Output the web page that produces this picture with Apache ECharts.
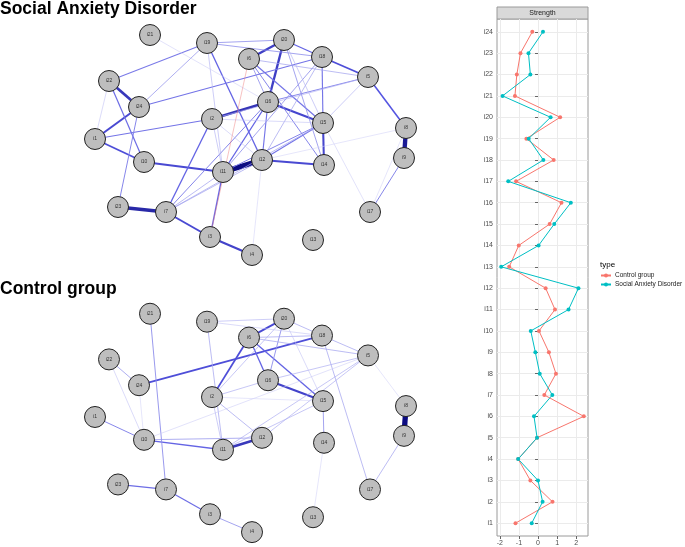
<!DOCTYPE html>
<html>
<head>
<meta charset="utf-8">
<script src="https://cdn.jsdelivr.net/npm/echarts@6/dist/echarts.min.js"></script>
<style>
html,body{margin:0;padding:0;background:#fff;}
#c{width:685px;height:547px;}
</style>
</head>
<body>
<div id="c"></div>
<script>
// ---------- DATA ----------
const items = ['i1','i2','i3','i4','i5','i6','i7','i8','i9','i10','i11','i12','i13','i14','i15','i16','i17','i18','i19','i20','i21','i22','i23','i24'];
const ctrlStrength = [-1.18, 0.76, -0.40, -1.04, -0.05, 2.40, 0.33, 0.94, 0.57, 0.05, 0.89, 0.40, -1.51, -1.01, 0.61, 1.23, -1.15, 0.82, -0.61, 1.16, -1.21, -1.11, -0.92, -0.30];
const sadStrength  = [-0.33, 0.24, 0.00, -1.04, -0.05, -0.21, 0.75, 0.09, -0.14, -0.38, 1.60, 2.12, -1.93, 0.03, 0.85, 1.72, -1.56, 0.28, -0.49, 0.66, -1.86, -0.40, -0.50, 0.26];
const xTicks = [-2, -1, 0, 1, 2];
const seriesNames = ['Control group', 'Social Anxiety Disorder'];
const panelTitles = ['Social Anxiety Disorder', 'Control group'];

// network layout (shared by both groups)
const layoutX = [95, 212, 210, 252, 368, 249, 166, 406, 404, 144, 223, 262, 313, 324, 323, 268, 370, 322, 207, 284, 150, 109, 118, 139];
const layoutY = [139, 119, 237, 255, 77, 59, 212, 128, 158, 162, 172, 160, 240, 165, 123, 102, 212, 57, 43, 40, 35, 81, 207, 107];

// edges [from, to, weight]; negative = red edge
const sadEdges = [
  ['i12','i11',1.0],['i8','i9',0.9],['i23','i7',0.8],['i22','i24',0.7],['i16','i2',0.72],
  ['i20','i6',0.65],['i20','i16',0.65],['i16','i15',0.6],['i15','i14',0.6],['i12','i14',0.58],
  ['i10','i11',0.58],['i1','i24',0.58],['i1','i10',0.55],['i7','i3',0.58],['i3','i4',0.62],
  ['i18','i5',0.55],['i5','i8',0.5],['i11','i3',0.45],['i2','i7',0.45],['i22','i10',0.42],
  ['i1','i2',0.4],['i19','i22',0.38],['i19','i20',0.3],['i19','i18',0.3],['i20','i18',0.45],
  ['i19','i12',0.45],['i16','i11',0.45],['i16','i12',0.4],['i16','i7',0.35],['i18','i15',0.4],
  ['i6','i15',0.4],['i6','i14',0.35],['i18','i24',0.4],['i5','i16',0.35],['i5','i6',0.25],
  ['i5','i2',0.2],['i15','i12',0.4],['i15','i11',0.35],['i15','i7',0.25],['i18','i11',0.3],
  ['i18','i12',0.25],['i19','i24',0.28],['i19','i11',0.2],['i20','i14',0.3],['i20','i15',0.2],
  ['i6','i16',0.3],['i2','i11',0.2],['i2','i12',0.15],['i2','i15',0.15],['i11','i7',0.25],
  ['i12','i7',0.25],['i24','i23',0.35],['i22','i1',0.15],['i21','i16',0.12],['i15','i17',0.12],
  ['i9','i17',0.35],['i8','i17',0.1],['i8','i12',0.1],['i12','i4',0.1],['i5','i15',0.2],
  ['i6','i3',-0.15]
];
const ctrlEdges = [
  ['i8','i9',1.0],['i11','i12',0.7],['i16','i15',0.62],['i20','i6',0.58],['i6','i2',0.55],
  ['i18','i24',0.55],['i6','i16',0.45],['i6','i15',0.45],['i10','i11',0.45],['i7','i3',0.42],
  ['i23','i7',0.42],['i21','i7',0.32],['i1','i10',0.35],['i19','i20',0.2],['i19','i11',0.25],
  ['i20','i18',0.25],['i20','i16',0.32],['i6','i18',0.25],['i6','i5',0.25],['i18','i5',0.25],
  ['i18','i17',0.25],['i5','i16',0.22],['i5','i12',0.22],['i5','i11',0.22],['i5','i8',0.1],
  ['i5','i10',0.12],['i22','i24',0.28],['i22','i10',0.15],['i24','i10',0.1],['i10','i12',0.28],
  ['i16','i2',0.22],['i2','i12',0.25],['i2','i11',0.2],['i2','i20',0.22],['i2','i15',0.1],
  ['i11','i15',0.22],['i15','i14',0.3],['i14','i13',0.1],['i9','i17',0.25],['i3','i4',0.3],
  ['i20','i15',0.15],['i19','i18',0.15]
];

// ---------- STYLE HELPERS ----------
function mix(a, b, t) { return a.map((v, i) => Math.round(v + (b[i] - v) * t)); }
function edgeColor(w) {
  if (w < 0) return 'rgba(238,120,120,' + Math.min(1, 0.5 + Math.abs(w) * 2) + ')';
  let c;
  if (w < 0.5) c = mix([238, 238, 253], [85, 85, 225], w / 0.5);
  else c = mix([85, 85, 225], [12, 12, 130], (w - 0.5) / 0.5);
  return 'rgb(' + c.join(',') + ')';
}
function edgeWidth(w) { const a = Math.abs(w); return 0.5 + 4.8 * Math.pow(a, 2.2); }

function buildNodes() {
  return items.map((n, i) => ({ name: n, value: [layoutX[i], layoutY[i]] }));
}
function buildLinks(edges) {
  return edges.map(e => ({ source: e[0], target: e[1],
    lineStyle: { color: edgeColor(e[2]), width: edgeWidth(e[2]), opacity: 1, curveness: 0 } }));
}
function graphSeries(edges, gi) {
  return {
    type: 'graph', layout: 'none', coordinateSystem: 'cartesian2d',
    xAxisIndex: gi, yAxisIndex: gi, roam: false, silent: true,
    symbol: 'circle', symbolSize: 21,
    itemStyle: { color: '#BEBEBE', borderColor: '#222', borderWidth: 1 },
    label: { show: true, position: 'inside', formatter: '{b}', fontSize: 5, color: '#333', fontFamily: 'Liberation Sans' },
    emphasis: { disabled: true },
    data: buildNodes(), links: buildLinks(edges)
  };
}

const FONT = 'Liberation Sans';
const chart = echarts.init(document.getElementById('c'), null, { renderer: 'canvas' });
const netAxisX = (gi) => ({ gridIndex: gi, type: 'value', min: 0, max: 420, show: false });
const netAxisY = (gi) => ({ gridIndex: gi, type: 'value', min: 0, max: 270, inverse: true, show: false });

const option = {
  animation: false,
  backgroundColor: '#fff',
  textStyle: { fontFamily: FONT },
  grid: [
    { left: 0, top: 0, width: 420, height: 270, show: false },
    { left: 0, top: 279, width: 420, height: 270, show: false },
    { left: 497, right: 97, top: 19, bottom: 11, show: true, borderColor: '#9a9a9a', borderWidth: 1, backgroundColor: '#fff' }
  ],
  xAxis: [
    netAxisX(0), netAxisX(1),
    { gridIndex: 2, type: 'value', min: -2.15, max: 2.62, splitNumber: 10,
      axisLine: { show: false },
      axisTick: { show: true, customValues: xTicks, length: 3, lineStyle: { color: '#666' } },
      axisLabel: { customValues: xTicks, fontSize: 7, color: '#4d4d4d', margin: 4, fontFamily: FONT,
        formatter: v => (xTicks.indexOf(v) >= 0 ? String(v) : '') },
      splitLine: { show: true, lineStyle: { color: '#ebebeb', width: 1 } } }
  ],
  yAxis: [
    netAxisY(0), netAxisY(1),
    { gridIndex: 2, type: 'value', min: 0.4, max: 24.6, splitNumber: 24,
      axisLine: { show: false },
      axisTick: { show: true, customValues: items.map((d, i) => i + 1), length: 3, lineStyle: { color: '#666' } },
      axisLabel: { customValues: items.map((d, i) => i + 1), fontSize: 7, color: '#4d4d4d', margin: 4, fontFamily: FONT,
        formatter: v => (Number.isInteger(v) && items[v - 1]) ? items[v - 1] : '' },
      splitLine: { show: true, lineStyle: { color: '#ebebeb', width: 1 } } }
  ],
  legend: {
    data: seriesNames, orient: 'vertical', left: 600, top: 272, padding: 0,
    itemWidth: 10, itemHeight: 5, itemGap: 2,
    textStyle: { fontSize: 6.5, color: '#222', fontFamily: FONT, padding: [0, 0, 0, -1] }
  },
  graphic: [
    { type: 'text', left: 0, top: 0, style: { text: panelTitles[0], font: 'bold 17.5px "Liberation Sans"', fill: '#000' } },
    { type: 'text', left: 0, top: 280, style: { text: panelTitles[1], font: 'bold 17.5px "Liberation Sans"', fill: '#000' } },
    { type: 'rect', shape: { x: 497, y: 7, width: 91, height: 12 }, style: { fill: '#d9d9d9', stroke: '#9a9a9a', lineWidth: 1 } },
    { type: 'text', x: 542.5, y: 13, style: { text: 'Strength', font: '7px "Liberation Sans"', fill: '#1a1a1a', align: 'center', verticalAlign: 'middle' } },
    { type: 'text', x: 600, y: 265, style: { text: 'type', font: '8px "Liberation Sans"', fill: '#000', align: 'left', verticalAlign: 'middle' } }
  ],
  series: [
    graphSeries(sadEdges, 0),
    graphSeries(ctrlEdges, 1),
    { name: seriesNames[0], type: 'line', xAxisIndex: 2, yAxisIndex: 2,
      data: ctrlStrength.map((v, i) => [v, i + 1]),
      symbol: 'circle', symbolSize: 4, showSymbol: true,
      lineStyle: { color: '#F8766D', width: 1 }, itemStyle: { color: '#F8766D' } },
    { name: seriesNames[1], type: 'line', xAxisIndex: 2, yAxisIndex: 2,
      data: sadStrength.map((v, i) => [v, i + 1]),
      symbol: 'circle', symbolSize: 4, showSymbol: true,
      lineStyle: { color: '#00BFC4', width: 1 }, itemStyle: { color: '#00BFC4' } }
  ]
};
chart.setOption(option);
</script>
</body>
</html>
